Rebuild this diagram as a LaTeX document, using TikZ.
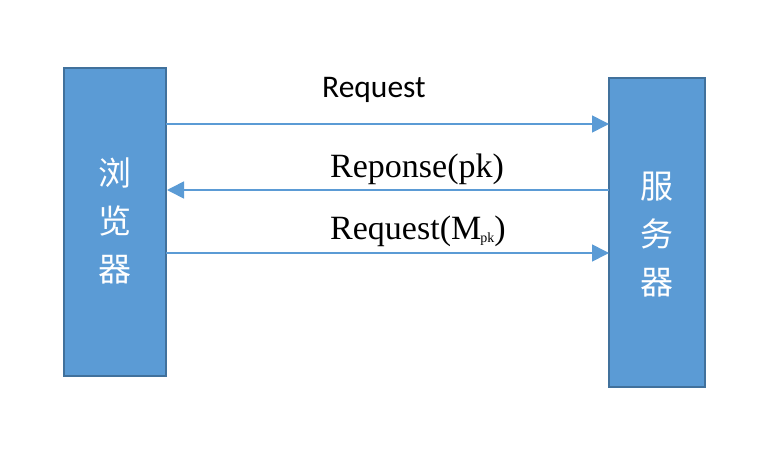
\documentclass[tikz,border=0pt]{standalone}
\usepackage{fontspec}
\setmainfont{Liberation Serif}
\newfontfamily\cjk{Noto Sans CJK SC}
\newfontfamily\calib{Carlito}
\usetikzlibrary{arrows.meta}
\definecolor{boxfill}{HTML}{5B9BD5}
\definecolor{boxline}{HTML}{41719C}
\definecolor{arrowc}{HTML}{5B9BD5}
\begin{document}
\begin{tikzpicture}[x=1pt,y=-1pt,
  actor/.style={draw=boxline,fill=boxfill,line width=2.5pt},
  msg/.style={draw=arrowc,line width=1.6pt,-{Triangle[length=17pt,width=17pt]}},
  cjklabel/.style={text=white,font=\cjk\fontsize{33}{48}\selectfont,align=center,inner sep=0pt},
  msglabel/.style={anchor=base west,inner sep=0pt,font=\fontsize{34}{40}\selectfont}]
\useasboundingbox (0,0) rectangle (770,452);
\path[actor] (64,68) rectangle (166,376);
\path[actor] (609,78) rectangle (705,387);
\node[cjklabel] (browser) at (115,221) {浏\\览\\器};
\node[cjklabel] (server) at (657,235) {服\\务\\器};
\coordinate (l1) at (166,124); \coordinate (r1) at (609,124);
\coordinate (r2) at (609,190); \coordinate (l2) at (167,190);
\coordinate (l3) at (166,253); \coordinate (r3) at (609,253);
\draw[msg] (l1) -- (r1);
\draw[msg] (r2) -- (l2);
\draw[msg] (l3) -- (r3);
\node[anchor=base west,inner sep=0pt,font=\calib\fontsize{31.5}{36}\selectfont] (req1) at (322,97) {Request};
\node[msglabel] (resp) at (330,177) {Reponse(pk)};
\node[msglabel] (req2) at (330,239) {Request(M\kern-1pt\raisebox{-3pt}{\fontsize{14}{14}\selectfont pk})};
\end{tikzpicture}
\end{document}
